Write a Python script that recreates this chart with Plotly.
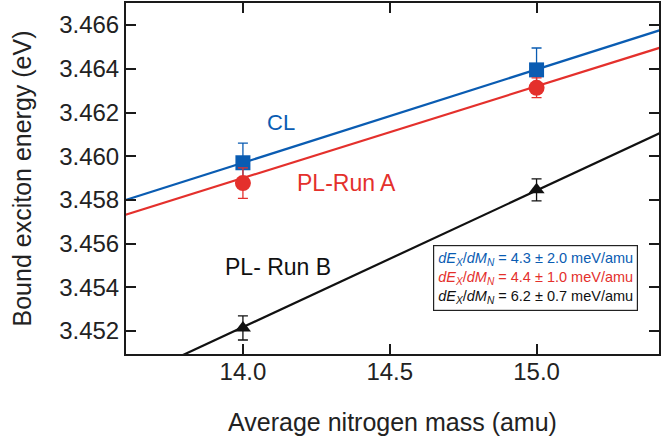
import plotly.graph_objects as go

# ---- data ----
mass = [14.0, 15.0]
cl_energy = [3.4597, 3.46395]
cl_err = [0.0009, 0.0010]
pla_energy = [3.45877, 3.46313]
pla_err = [0.0007, 0.00045]
plb_energy = [3.45214, 3.45846]
plb_err = [0.00055, 0.0005]

# linear fits: value at 14.0 amu and slope (eV/amu)
fit_at14 = [3.4597, 3.4590, 3.45218]
fit_slope = [0.00427, 0.0042, 0.00625]

x_range = [13.6018, 15.417]
y_range = [3.45095, 3.46701]

slope_text = ["4.3 ± 2.0", "4.4 ± 1.0", "6.2 ± 0.7"]

BLUE = "#0a5cb2"
RED = "#e4302c"
BLACK = "#111111"
colors = [BLUE, RED, BLACK]
FONT = "Liberation Sans, Arial, sans-serif"

fig = go.Figure()

# fit lines
for a, s, c in zip(fit_at14, fit_slope, colors):
    xs = [x_range[0] - 0.05, x_range[1] + 0.05]
    ys = [a + s * (x - 14.0) for x in xs]
    fig.add_trace(go.Scatter(x=xs, y=ys, mode="lines",
                             line=dict(color=c, width=2.2),
                             showlegend=False, hoverinfo="skip"))

series = [
    (cl_energy, cl_err, BLUE, "square", 15),
    (pla_energy, pla_err, RED, "circle", 16),
    (plb_energy, plb_err, BLACK, "triangle-up", 14),
]
for ys, err, c, sym, sz in series:
    fig.add_trace(go.Scatter(
        x=mass, y=ys, mode="markers",
        marker=dict(symbol=sym, size=sz, color=c, line=dict(width=0)),
        error_y=dict(type="data", array=err, visible=True, color=c,
                     thickness=1.3, width=5),
        showlegend=False))

# labels
fig.add_annotation(x=14.13, y=3.46156, text="CL", showarrow=False,
                   font=dict(family=FONT, size=22, color=BLUE))
fig.add_annotation(x=14.354, y=3.45877, text="PL-Run A", showarrow=False,
                   font=dict(family=FONT, size=23, color=RED))
fig.add_annotation(x=14.12, y=3.45493, text="PL- Run B", showarrow=False,
                   font=dict(family=FONT, size=23, color=BLACK))

lines = []
for txt, c in zip(slope_text, colors):
    lines.append(f'<span style="color:{c}"><i>dE<sub>X</sub></i>/<i>dM<sub>N</sub></i>'
                 f' = {txt} meV/amu</span>')
fig.add_annotation(xref="paper", yref="paper", x=0.961, y=0.31,
                   xanchor="right", yanchor="top", align="left",
                   text="<br>".join(lines), showarrow=False,
                   font=dict(family=FONT, size=14.5, color=BLACK),
                   bordercolor="#222222", borderwidth=1.2, borderpad=4,
                   bgcolor="white")

axis_common = dict(showline=True, linecolor="#1a1a1a", linewidth=2,
                   mirror="ticks", ticks="inside", ticklen=10, tickwidth=2,
                   tickcolor="#1a1a1a", showgrid=False, zeroline=False,
                   tickfont=dict(family=FONT, size=24, color="#222222"))

fig.update_xaxes(range=x_range, tickvals=[14.0, 14.5, 15.0],
                 ticktext=["14.0", "14.5", "15.0"],
                 ticklabelstandoff=-5,
                 title=dict(text="Average nitrogen mass (amu)",
                            font=dict(family=FONT, size=25, color="#222222"),
                            standoff=30),
                 **axis_common)
fig.update_yaxes(range=y_range,
                 tickvals=[3.452, 3.454, 3.456, 3.458, 3.460, 3.462, 3.464, 3.466],
                 ticktext=["3.452", "3.454", "3.456", "3.458", "3.460", "3.462", "3.464", "3.466"],
                 title=dict(text="Bound exciton energy (eV)",
                            font=dict(family=FONT, size=25, color="#222222"),
                            standoff=20),
                 **axis_common)

fig.update_layout(width=661, height=443,
                  margin=dict(l=126, r=0, t=3, b=89),
                  plot_bgcolor="white", paper_bgcolor="white",
                  font=dict(family=FONT))

fig.write_html("out.html")
